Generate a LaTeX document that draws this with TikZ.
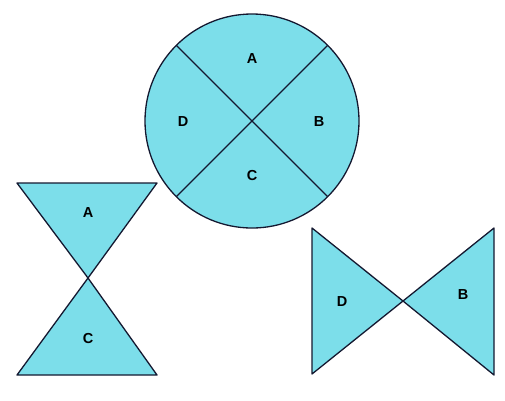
\documentclass[tikz,border=0pt]{standalone}
\usepackage{fontspec}
\setmainfont{Liberation Sans}
\usepackage{tikz}
\usetikzlibrary{calc}

\definecolor{sectorfill}{RGB}{124,222,234}
\definecolor{edgeline}{RGB}{20,24,48}

\tikzset{
  region/.style={fill=sectorfill, draw=edgeline, line width=1.3pt, line join=round},
  divider/.style={draw=edgeline, line width=1.3pt},
  letter/.style={font=\fontsize{14.5}{14.5}\selectfont\bfseries, text=black}
}

\begin{document}
\begin{tikzpicture}[x=1pt, y=-1pt]
    \useasboundingbox (0,0) rectangle (505,400);

            % Circle cut into four sectors
            \coordinate (centre) at (252,121);
            \draw[region] (centre) circle[radius=107];
            \draw[divider] ($(centre)+(-75.7,-75.7)$) -- ($(centre)+(75.7,75.7)$);
            \draw[divider] ($(centre)+(75.7,-75.7)$) -- ($(centre)+(-75.7,75.7)$);
            \node[letter] (cA) at (252,59) {A};
            \node[letter] (cB) at (319,122) {B};
            \node[letter] (cC) at (252,176) {C};
            \node[letter] (cD) at (183,122) {D};

            % Hourglass: sectors A and C
            \draw[region] (17,183) -- (157,183) -- (88,278) -- cycle;
            \draw[region] (88,278) -- (157,375) -- (17,375) -- cycle;
            \node[letter] (hA) at (88,213) {A};
            \node[letter] (hC) at (88,338) {C};

            % Bow tie: sectors D and B
            \draw[region] (312,228) -- (403,301) -- (312,374) -- cycle;
            \draw[region] (494,228) -- (403,301) -- (494,375) -- cycle;
            \node[letter] (bD) at (342,302) {D};
            \node[letter] (bB) at (463,295) {B};
        \end{tikzpicture}
\end{document}
